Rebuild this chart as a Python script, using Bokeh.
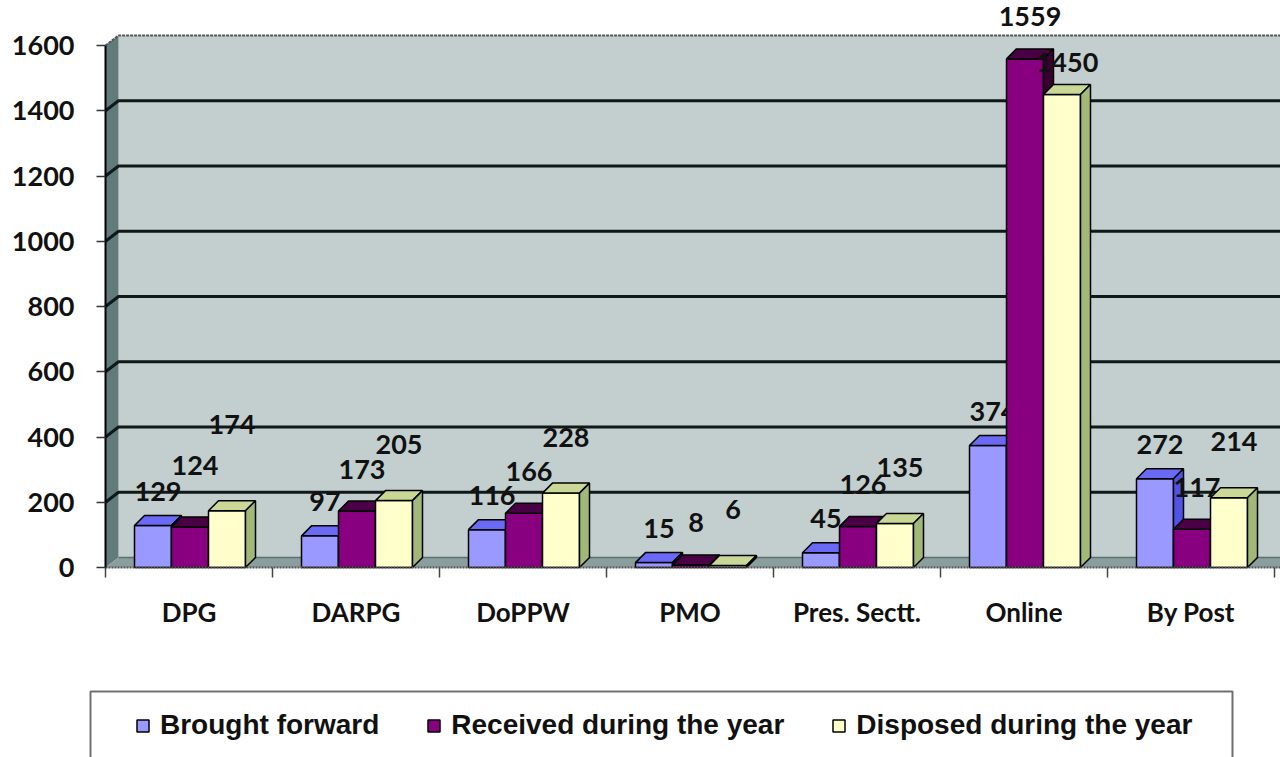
from bokeh.plotting import figure
from bokeh.models import (Range1d, LinearAxis, FixedTicker, Legend, LegendItem)
from bokeh.core.properties import value
from bokeh.embed import file_html
from bokeh.resources import INLINE

# ---- data -------------------------------------------------------------
categories = ["DPG", "DARPG", "DoPPW", "PMO", "Pres. Sectt.", "Online", "By Post"]
series_names = ["Brought forward", "Received during the year", "Disposed during the year"]
brought_forward = [129, 97, 116, 15, 45, 374, 272]
received = [124, 173, 166, 8, 126, 1559, 117]
disposed = [174, 205, 228, 6, 135, 1450, 214]
y_ticks = [0, 200, 400, 600, 800, 1000, 1200, 1400, 1600]

series_values = [brought_forward, received, disposed]

# ---- styling ----------------------------------------------------------
front_colors = ["#9999FF", "#880080", "#FFFFCC"]
top_colors = ["#6A6AF6", "#4A0044", "#C9D896"]
side_colors = ["#5252E6", "#38002F", "#A2B878"]
WALL = "#C3CECE"
SIDE_WALL = "#617A7A"
FLOOR = "#8A9E9E"
LABEL_FONT = value("Lato")

# ---- geometry: pixel layout of the 3-D plot box -------------------------
W, H = 1280, 757
AXIS_PX = 105          # screen x of the value axis
ZERO_PY = 567          # screen y of the value 0
CAT_PX = 167           # width of one category slot
PX_PER_UNIT = 0.32625  # vertical pixels per unit of value
BAR_PX = 37            # front width of a bar
GROUP_PAD_PX = 29      # gap from slot edge to first bar
WALL_DX, WALL_DY = 13, 10   # depth of back wall
BAR_DX, BAR_DY = 10, 10     # depth of bars
LABEL_RISE = [34, 42, 56]   # label gap above each series' bar top (px)
# extra lift for a few labels so neighbouring numbers don't collide
LABEL_NUDGE = {(0, 1): 20, (0, 2): 30, (5, 2): -24}


def dx(px):
    return px / CAT_PX


def dy(px):
    return px / PX_PER_UNIT


x_start, x_end = dx(-AXIS_PX), dx(W - AXIS_PX)
y_start, y_end = -dy(H - ZERO_PY), dy(ZERO_PY)

p = figure(width=W, height=H, x_range=Range1d(x_start, x_end),
           y_range=Range1d(y_start, y_end), x_axis_type=None, y_axis_type=None,
           toolbar_location=None, output_backend="svg", min_border=0,
           outline_line_color=None, background_fill_color="white",
           border_fill_color="white")

ymax = y_ticks[-1]
wx, wy = dx(WALL_DX), dy(WALL_DY)

# back wall, side wall and floor
p.quad(left=wx, right=x_end, bottom=wy, top=ymax + wy, fill_color=WALL, line_color=None)
p.patch([0, 0, wx, wx], [0, ymax, ymax + wy, wy], fill_color=SIDE_WALL, line_color=None)
p.patch([0, x_end, x_end, wx], [0, 0, wy, wy], fill_color=FLOOR, line_color=None)
p.line([wx, x_end], [wy, wy], line_color="#5E7070", line_width=1.5)

# gridlines across side wall and back wall
for t in y_ticks[1:-1]:
    p.line([0, wx, x_end], [t, t + wy, t + wy], line_color="#101818", line_width=3)
p.line([0, wx, x_end], [ymax, ymax + wy, ymax + wy], line_color="#555", line_width=2,
       line_dash="3 1")

# 3-D bars
front_renderers = []
for j, vals in enumerate(series_values):
    lefts = [i + dx(GROUP_PAD_PX + BAR_PX * j) for i in range(len(categories))]
    rights = [l + dx(BAR_PX) for l in lefts]
    bdx, bdy = dx(BAR_DX), dy(BAR_DY)
    r = p.quad(left=lefts, right=rights, bottom=0, top=vals,
               fill_color=front_colors[j], line_color="black", line_width=1.5)
    front_renderers.append(r)
    p.patches(
        xs=[[l, rr, rr + bdx, l + bdx] for l, rr in zip(lefts, rights)],
        ys=[[v, v, v + bdy, v + bdy] for v in vals],
        fill_color=top_colors[j], line_color="black", line_width=1.5)
    p.patches(
        xs=[[rr, rr, rr + bdx, rr + bdx] for rr in rights],
        ys=[[0, v, v + bdy, bdy] for v in vals],
        fill_color=side_colors[j], line_color="black", line_width=1.5)
    label_y = [v + dy(LABEL_RISE[j] + LABEL_NUDGE.get((i, j), 0))
               for i, v in enumerate(vals)]
    p.text(x=[(l + rr) / 2 + dx(5) for l, rr in zip(lefts, rights)],
           y=label_y, text=[str(v) for v in vals], text_font=LABEL_FONT,
           text_font_style="bold", text_font_size="27px", text_color="#111",
           text_align="center", text_baseline="middle")

# value axis
yaxis = LinearAxis(fixed_location=0, ticker=FixedTicker(ticks=y_ticks, minor_ticks=[]),
                   bounds=(0, ymax))
yaxis.axis_line_color = "black"
yaxis.axis_line_width = 2
yaxis.major_tick_out = 9
yaxis.major_tick_in = 0
yaxis.major_tick_line_color = "#333"
yaxis.major_tick_line_width = 1.5
yaxis.major_label_standoff = 22
yaxis.major_label_text_font = "Lato"
yaxis.major_label_text_font_style = "bold"
yaxis.major_label_text_font_size = "27px"
yaxis.major_label_text_color = "#111"
p.add_layout(yaxis, "left")

# category axis: ticks at slot edges, names at slot centres
centers = [i + 0.5 for i in range(len(categories))]
xaxis = LinearAxis(fixed_location=0,
                   ticker=FixedTicker(ticks=centers,
                                      minor_ticks=list(range(len(categories) + 1))),
                   bounds=(0, x_end))
xaxis.major_label_overrides = {c: name for c, name in zip(centers, categories)}
xaxis.axis_line_color = "#555"
xaxis.axis_line_width = 2
xaxis.axis_line_dash = "2 1"
xaxis.major_tick_out = 0
xaxis.major_tick_in = 0
xaxis.minor_tick_out = 10
xaxis.minor_tick_in = 0
xaxis.minor_tick_line_color = "#444"
xaxis.minor_tick_line_width = 1.5
xaxis.major_label_standoff = 18
xaxis.major_label_text_font = "Lato"
xaxis.major_label_text_font_style = "bold"
xaxis.major_label_text_font_size = "26px"
xaxis.major_label_text_color = "#111"
p.add_layout(xaxis, "below")

# legend frame
LEG_L, LEG_R, LEG_T = 90, 1232, 691
p.quad(left=dx(LEG_L - AXIS_PX), right=dx(LEG_R - AXIS_PX),
       top=dy(ZERO_PY - LEG_T), bottom=dy(ZERO_PY - H - 20),
       fill_color="white", line_color="#707070", line_width=2)

legend = Legend(
    items=[LegendItem(label=n, renderers=[r]) for n, r in zip(series_names, front_renderers)],
    orientation="horizontal", location=(135, 16), padding=0, spacing=47,
    glyph_width=15, glyph_height=15, label_standoff=10,
    label_text_font="Liberation Sans", label_text_font_style="bold",
    label_text_font_size="28px", label_text_color="#111",
    border_line_color=None, background_fill_alpha=0)
p.add_layout(legend, "center")

open("out.html", "w").write(file_html(p, INLINE))
